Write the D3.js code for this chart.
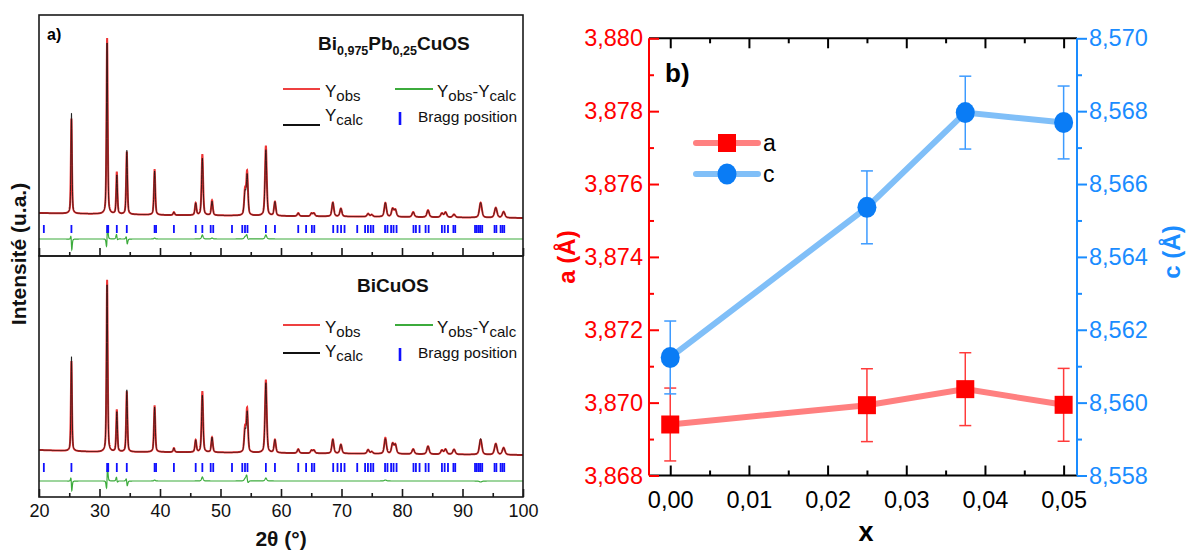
<!DOCTYPE html>
<html><head><meta charset="utf-8">
<script src="https://cdn.jsdelivr.net/npm/d3@7"></script>
<style>
body{margin:0;background:#fff}
svg{display:block;font-family:"Liberation Sans",Arial,Helvetica,sans-serif}
</style>
</head><body>
<svg id="chart" width="1187" height="554"></svg>
<script>
// ---------------- DATA: panel a) XRD patterns ----------------
// peaks: [2theta (deg), intensity (a.u.)]
const obsPeaksTop = [[25.36,95],[31.26,176],[32.86,42],[34.51,62],[39.11,45],[42.3,3],[45.9,12],[47.0,61],[48.6,15],[54.05,24],[54.4,43],[57.5,70],[59.0,14],[62.85,3],[65.05,3],[65.45,3],[68.57,14],[69.9,8],[74.4,3],[75.0,2],[77.25,14],[78.45,8],[78.9,7],[81.85,5],[84.3,7],[86.6,4],[87.2,5],[88.6,3],[93.0,15],[95.5,10],[96.8,6]];
const calcPeaksTop = [[25.37,101],[31.25,172],[32.87,39],[34.52,64],[39.11,44],[42.3,3],[45.9,12],[47.0,57],[48.6,14],[54.05,22],[54.41,40],[57.5,66],[59.0,14],[62.85,3],[65.05,3],[65.45,3],[68.57,14],[69.9,8],[74.4,3],[75.0,2],[77.25,14],[78.45,8],[78.9,7],[81.85,5],[84.3,7],[86.6,4],[87.2,5],[88.6,3],[93.0,15],[95.5,10],[96.8,6]];
const obsPeaksBot = [[25.36,90],[31.26,172],[32.86,42],[34.51,60],[39.11,46],[42.3,4],[45.9,12],[47.0,61],[48.6,15],[54.05,23],[54.4,43],[57.5,73],[59.0,13],[62.85,4],[65.05,3],[65.45,3],[68.57,14],[69.9,9],[74.4,4],[75.0,2],[77.25,16],[78.45,10],[78.9,9],[81.85,5],[84.3,8],[86.6,4],[87.2,5],[88.6,5],[93.0,15],[95.5,11],[96.8,7]];
const calcPeaksBot = [[25.37,95],[31.25,168],[32.87,40],[34.52,62],[39.11,45],[42.3,4],[45.9,12],[47.0,57],[48.6,15],[54.05,21],[54.42,40],[57.5,70],[59.0,13],[62.85,4],[65.05,3],[65.45,3],[68.57,14],[69.9,9],[74.4,4],[75.0,2],[77.25,15],[78.45,10],[78.9,9],[81.85,5],[84.3,8],[86.6,4],[87.2,5],[88.6,5],[93.0,16],[95.5,11],[96.8,7]];
const bgTheta = [20,30,40,60,80,100];
const bgTop = [43,42,41,40,39,38];
const bgBot = [47,45,45,44,43,42];
const braggPos = [20.8,25.36,31.26,31.44,32.86,34.51,39.11,39.35,42.3,45.9,47.0,48.38,48.8,51.9,53.6,54.05,54.46,57.5,59.0,62.85,64.15,65.1,65.5,68.63,69.34,69.93,70.5,72.6,73.9,74.37,74.84,75.25,77.2,77.6,78.2,78.6,79.1,81.9,82.3,82.9,83.9,84.4,86.6,87.05,87.6,88.5,88.8,92.07,92.37,92.7,92.96,93.26,95.3,95.6,96.3,96.6,96.9];
const xTicksA = [20,30,40,50,60,70,80,90,100];
const xMinorA = [25,35,45,55,65,75,85,95];

// ---------------- DATA: panel b) lattice parameters ----------------
const xVals = [0, 0.025, 0.0375, 0.05];
const aVals = [3.86940, 3.86993, 3.87037, 3.86994];
const aErr  = [0.0010, 0.0010, 0.0010, 0.0010];
const cVals = [8.56124, 8.56536, 8.56796, 8.56769];
const cErr  = [0.0010, 0.0010, 0.0010, 0.0010];
const xTicksB = [0, 0.01, 0.02, 0.03, 0.04, 0.05];
const aTicks = [3.868, 3.870, 3.872, 3.874, 3.876, 3.878, 3.880];
const cTicks = [8.558, 8.560, 8.562, 8.564, 8.566, 8.568, 8.570];

// ---------------- DRAW ----------------
const svg = d3.select("#chart");
svg.append("rect").attr("width",1187).attr("height",554).attr("fill","#fff");

// ===== Panel a =====
const L = 39, R = 523;
const panels = [
  {top:15, bot:256, obs:obsPeaksTop, calc:calcPeaksTop, bg:bgTop, diffOff:17, bragg:[23,31], labels:false},
  {top:256, bot:497, obs:obsPeaksBot, calc:calcPeaksBot, bg:bgBot, diffOff:16, bragg:[25,34], labels:true}
];
const x2t = d3.scaleLinear().domain([20,100]).range([L,R]);
const grid = d3.range(20, 100.0001, 0.02);
const eta = 0.45;
function fwhm(p){ return 0.19 + 0.004*(p-20); }
function profile(peaks, t){
  let s = 0;
  for (const [p,h] of peaks){
    const dx = t-p; if (Math.abs(dx) > 6) continue;
    const w = fwhm(p), q = 4*dx*dx/(w*w);
    s += h*(eta/(1+q) + (1-eta)*Math.exp(-Math.LN2*q));
  }
  return s;
}
const defs = svg.append("defs");
panels.forEach((P,i)=>{
  const y = d3.scaleLinear().domain([0, P.bot-P.top]).range([P.bot, P.top]);
  const bg = d3.scaleLinear().domain(bgTheta).range(P.bg);
  defs.append("clipPath").attr("id","clipA"+i).append("rect")
    .attr("x",L).attr("y",P.top).attr("width",R-L).attr("height",P.bot-P.top);
  const g = svg.append("g").attr("clip-path",`url(#clipA${i})`);
  const obs = grid.map(t=>[t, bg(t)+profile(P.obs,t)]);
  const calc = grid.map(t=>[t, bg(t)+profile(P.calc,t)]);
  const diff = grid.map((t,k)=>[t, P.diffOff + obs[k][1]-calc[k][1]]);
  const line = d3.line().x(d=>x2t(d[0])).y(d=>y(d[1]));
  g.append("path").attr("d",line(obs)).attr("fill","none").attr("stroke","#ee3535").attr("stroke-width",2);
  g.append("path").attr("d",line(calc)).attr("fill","none").attr("stroke","#111").attr("stroke-width",1).attr("stroke-opacity",0.8);
  g.append("path").attr("d",line(diff)).attr("fill","none").attr("stroke","#3cab3c").attr("stroke-width",1.2);
  g.selectAll("line.bragg").data(braggPos).join("line").attr("class","bragg")
    .attr("x1",d=>x2t(d)).attr("x2",d=>x2t(d))
    .attr("y1",y(P.bragg[0])).attr("y2",y(P.bragg[1]))
    .attr("stroke","#1010ff").attr("stroke-width",1.8);
  svg.append("rect").attr("x",L).attr("y",P.top).attr("width",R-L).attr("height",P.bot-P.top)
    .attr("fill","none").attr("stroke","#1a1a1a").attr("stroke-width",1.6);
  const ax = svg.append("g").attr("transform",`translate(0,${P.bot})`)
    .call(d3.axisBottom(x2t).tickValues(xTicksA).tickSize(-8).tickSizeOuter(0).tickPadding(7)
      .tickFormat(P.labels ? d3.format("d") : ""));
  ax.select(".domain").remove();
  ax.selectAll("line").attr("stroke","#1a1a1a").attr("stroke-width",1.6);
  ax.selectAll("text").attr("font-size",18).attr("fill","#111")
    .style("font-family",'"Liberation Sans",Arial,sans-serif');
  const axm = svg.append("g").attr("transform",`translate(0,${P.bot})`)
    .call(d3.axisBottom(x2t).tickValues(xMinorA).tickSize(-4).tickSizeOuter(0).tickFormat(""));
  axm.select(".domain").remove();
  axm.selectAll("line").attr("stroke","#1a1a1a").attr("stroke-width",1.6);
});

svg.append("text").attr("x",47).attr("y",40).attr("font-size",16).attr("font-weight","bold").text("a)");
const t1 = svg.append("text").attr("x",318).attr("y",50).attr("font-size",19).attr("font-weight","bold").attr("fill","#111");
t1.append("tspan").text("Bi");
t1.append("tspan").attr("font-size",12.5).attr("dy",5).text("0,975");
t1.append("tspan").attr("dy",-5).text("Pb");
t1.append("tspan").attr("font-size",12.5).attr("dy",5).text("0,25");
t1.append("tspan").attr("dy",-5).text("CuOS");
svg.append("text").attr("x",357).attr("y",292).attr("font-size",19).attr("font-weight","bold").attr("fill","#111").text("BiCuOS");

function legendA(off, blackY){
  const g = svg.append("g").attr("transform",`translate(0,${off})`);
  g.append("line").attr("x1",283).attr("x2",320).attr("y1",89).attr("y2",89).attr("stroke","#ee4040").attr("stroke-width",2);
  g.append("line").attr("x1",283).attr("x2",320).attr("y1",blackY).attr("y2",blackY).attr("stroke","#111").attr("stroke-width",2);
  g.append("line").attr("x1",395).attr("x2",433).attr("y1",89).attr("y2",89).attr("stroke","#3cab3c").attr("stroke-width",2);
  g.append("line").attr("x1",400).attr("x2",400).attr("y1",112).attr("y2",125).attr("stroke","#1010ff").attr("stroke-width",2.6);
  const s = g.append("text").attr("x",325).attr("y",97).attr("font-size",17).attr("fill","#111");
  s.append("tspan").text("Y"); s.append("tspan").attr("font-size",15).attr("dy",4).text("obs");
  const c = g.append("text").attr("x",325).attr("y",121).attr("font-size",17).attr("fill","#111");
  c.append("tspan").text("Y"); c.append("tspan").attr("font-size",15).attr("dy",4).text("calc");
  const d = g.append("text").attr("x",437).attr("y",97).attr("font-size",17).attr("fill","#111");
  d.append("tspan").text("Y"); d.append("tspan").attr("font-size",15).attr("dy",4).text("obs");
  d.append("tspan").attr("dy",-4).text("-Y"); d.append("tspan").attr("font-size",15).attr("dy",4).text("calc");
  g.append("text").attr("x",418).attr("y",121.5).attr("font-size",15.5).attr("fill","#111").text("Bragg position");
}
legendA(0, 125);
legendA(236, 117);

svg.append("text").attr("transform","translate(26,254) rotate(-90)").attr("text-anchor","middle")
  .attr("font-size",21).attr("font-weight","bold").attr("fill","#111").text("Intensité (u.a.)");
svg.append("text").attr("x",281).attr("y",546).attr("text-anchor","middle")
  .attr("font-size",21).attr("font-weight","bold").attr("fill","#111").text("2θ (°)");

// ===== Panel b =====
const BL = 649, BR = 1077, BT = 38.3, BB = 475.5;
const xb = d3.scaleLinear().domain([-0.0027, 0.0517]).range([BL, BR]);
const ya = d3.scaleLinear().domain([3.868, 3.880]).range([BB, BT]);
const yc = d3.scaleLinear().domain([8.558, 8.570]).range([BB, BT]);
const fmt3 = v => d3.format(".3f")(v).replace(".", ",");
const fmt2 = v => d3.format(".2f")(v).replace(".", ",");
const RED = "#ff0000", BLUE = "#1a8cff";
const xMinorB = xTicksB.slice(0,-1).map(v=>v+0.005);
const aMinor = aTicks.slice(0,-1).map(v=>v+0.001);
const cMinor = cTicks.slice(0,-1).map(v=>v+0.001);
const FS = 23.5;

function styleAxis(sel, color, fs){
  sel.select(".domain").remove();
  sel.selectAll("line").attr("stroke",color).attr("stroke-width",2);
  sel.selectAll("text").attr("fill",color).attr("font-size",fs)
    .style("font-family",'"Liberation Sans",Arial,sans-serif');
}
let g1 = svg.append("g").attr("transform",`translate(0,${BT})`)
  .call(d3.axisTop(xb).tickValues(xTicksB).tickSize(-10).tickFormat("")); styleAxis(g1,"#000",FS);
g1 = svg.append("g").attr("transform",`translate(0,${BT})`)
  .call(d3.axisTop(xb).tickValues(xMinorB).tickSize(-5).tickFormat("")); styleAxis(g1,"#000",FS);
g1 = svg.append("g").attr("transform",`translate(0,${BB})`)
  .call(d3.axisBottom(xb).tickValues(xTicksB).tickSize(-10).tickPadding(16).tickFormat(fmt2)); styleAxis(g1,"#000",FS);
g1 = svg.append("g").attr("transform",`translate(0,${BB})`)
  .call(d3.axisBottom(xb).tickValues(xMinorB).tickSize(-5).tickFormat("")); styleAxis(g1,"#000",FS);
svg.append("line").attr("x1",BL).attr("x2",BR).attr("y1",BT).attr("y2",BT).attr("stroke","#000").attr("stroke-width",2);
svg.append("line").attr("x1",BL).attr("x2",BR).attr("y1",BB).attr("y2",BB).attr("stroke","#000").attr("stroke-width",2);
g1 = svg.append("g").attr("transform",`translate(${BL},0)`)
  .call(d3.axisLeft(ya).tickValues(aTicks).tickSize(-10).tickPadding(6).tickFormat(fmt3)); styleAxis(g1,RED,FS);
g1 = svg.append("g").attr("transform",`translate(${BL},0)`)
  .call(d3.axisLeft(ya).tickValues(aMinor).tickSize(-5).tickFormat("")); styleAxis(g1,RED,FS);
svg.append("line").attr("x1",BL).attr("x2",BL).attr("y1",BT).attr("y2",BB).attr("stroke",RED).attr("stroke-width",2);
g1 = svg.append("g").attr("transform",`translate(${BR},0)`)
  .call(d3.axisRight(yc).tickValues(cTicks).tickSize(10).tickPadding(2).tickFormat(fmt3)); styleAxis(g1,BLUE,FS);
g1 = svg.append("g").attr("transform",`translate(${BR},0)`)
  .call(d3.axisRight(yc).tickValues(cMinor).tickSize(5).tickFormat("")); styleAxis(g1,BLUE,FS);
svg.append("line").attr("x1",BR).attr("x2",BR).attr("y1",BT).attr("y2",BB).attr("stroke",BLUE).attr("stroke-width",2);

const aData = xVals.map((x,i)=>({x, v:aVals[i], e:aErr[i]}));
const cData = xVals.map((x,i)=>({x, v:cVals[i], e:cErr[i]}));
svg.append("path").datum(aData).attr("d",d3.line().x(d=>xb(d.x)).y(d=>ya(d.v)))
  .attr("fill","none").attr("stroke","#ff8080").attr("stroke-width",6);
svg.append("path").datum(cData).attr("d",d3.line().x(d=>xb(d.x)).y(d=>yc(d.v)))
  .attr("fill","none").attr("stroke","#80bff8").attr("stroke-width",6);
function errBars(data, y, color){
  const g = svg.append("g").attr("stroke",color).attr("stroke-width",1.5);
  data.forEach(d=>{
    const X = xb(d.x), y1 = y(d.v+d.e), y2 = y(d.v-d.e);
    g.append("line").attr("x1",X).attr("x2",X).attr("y1",y1).attr("y2",y2);
    g.append("line").attr("x1",X-6).attr("x2",X+6).attr("y1",y1).attr("y2",y1);
    g.append("line").attr("x1",X-6).attr("x2",X+6).attr("y1",y2).attr("y2",y2);
  });
}
errBars(aData, ya, "#ff3b3b");
errBars(cData, yc, "#3d9bff");
svg.selectAll("rect.am").data(aData).join("rect").attr("class","am")
  .attr("x",d=>xb(d.x)-9).attr("y",d=>ya(d.v)-9).attr("width",18).attr("height",18).attr("fill",RED);
svg.selectAll("ellipse.cm").data(cData).join("ellipse").attr("class","cm")
  .attr("cx",d=>xb(d.x)).attr("cy",d=>yc(d.v)).attr("rx",9.5).attr("ry",10.5).attr("fill","#0a7cf5");

svg.append("line").attr("x1",696).attr("x2",758).attr("y1",143).attr("y2",143).attr("stroke","#ff8080").attr("stroke-width",6).attr("stroke-linecap","round");
svg.append("rect").attr("x",727-9).attr("y",143-9).attr("width",18).attr("height",18).attr("fill",RED);
svg.append("text").attr("x",763).attr("y",151).attr("font-size",23).attr("fill","#000").text("a");
svg.append("line").attr("x1",696).attr("x2",758).attr("y1",174).attr("y2",174).attr("stroke","#80bff8").attr("stroke-width",6).attr("stroke-linecap","round");
svg.append("ellipse").attr("cx",727).attr("cy",174).attr("rx",9.5).attr("ry",10.5).attr("fill","#0a7cf5");
svg.append("text").attr("x",763).attr("y",182).attr("font-size",23).attr("fill","#000").text("c");

svg.append("text").attr("x",665).attr("y",82).attr("font-size",26).attr("font-weight","bold").text("b)");
svg.append("text").attr("x",866).attr("y",541).attr("text-anchor","middle").attr("font-size",27).attr("font-weight","bold").text("x");
svg.append("text").attr("transform","translate(575,257) rotate(-90)").attr("text-anchor","middle")
  .attr("font-size",24).attr("font-weight","bold").attr("fill",RED).text("a (Å)");
svg.append("text").attr("transform","translate(1180,252) rotate(-90)").attr("text-anchor","middle")
  .attr("font-size",24).attr("font-weight","bold").attr("fill",BLUE).text("c (Å)");
</script>
</body></html>
